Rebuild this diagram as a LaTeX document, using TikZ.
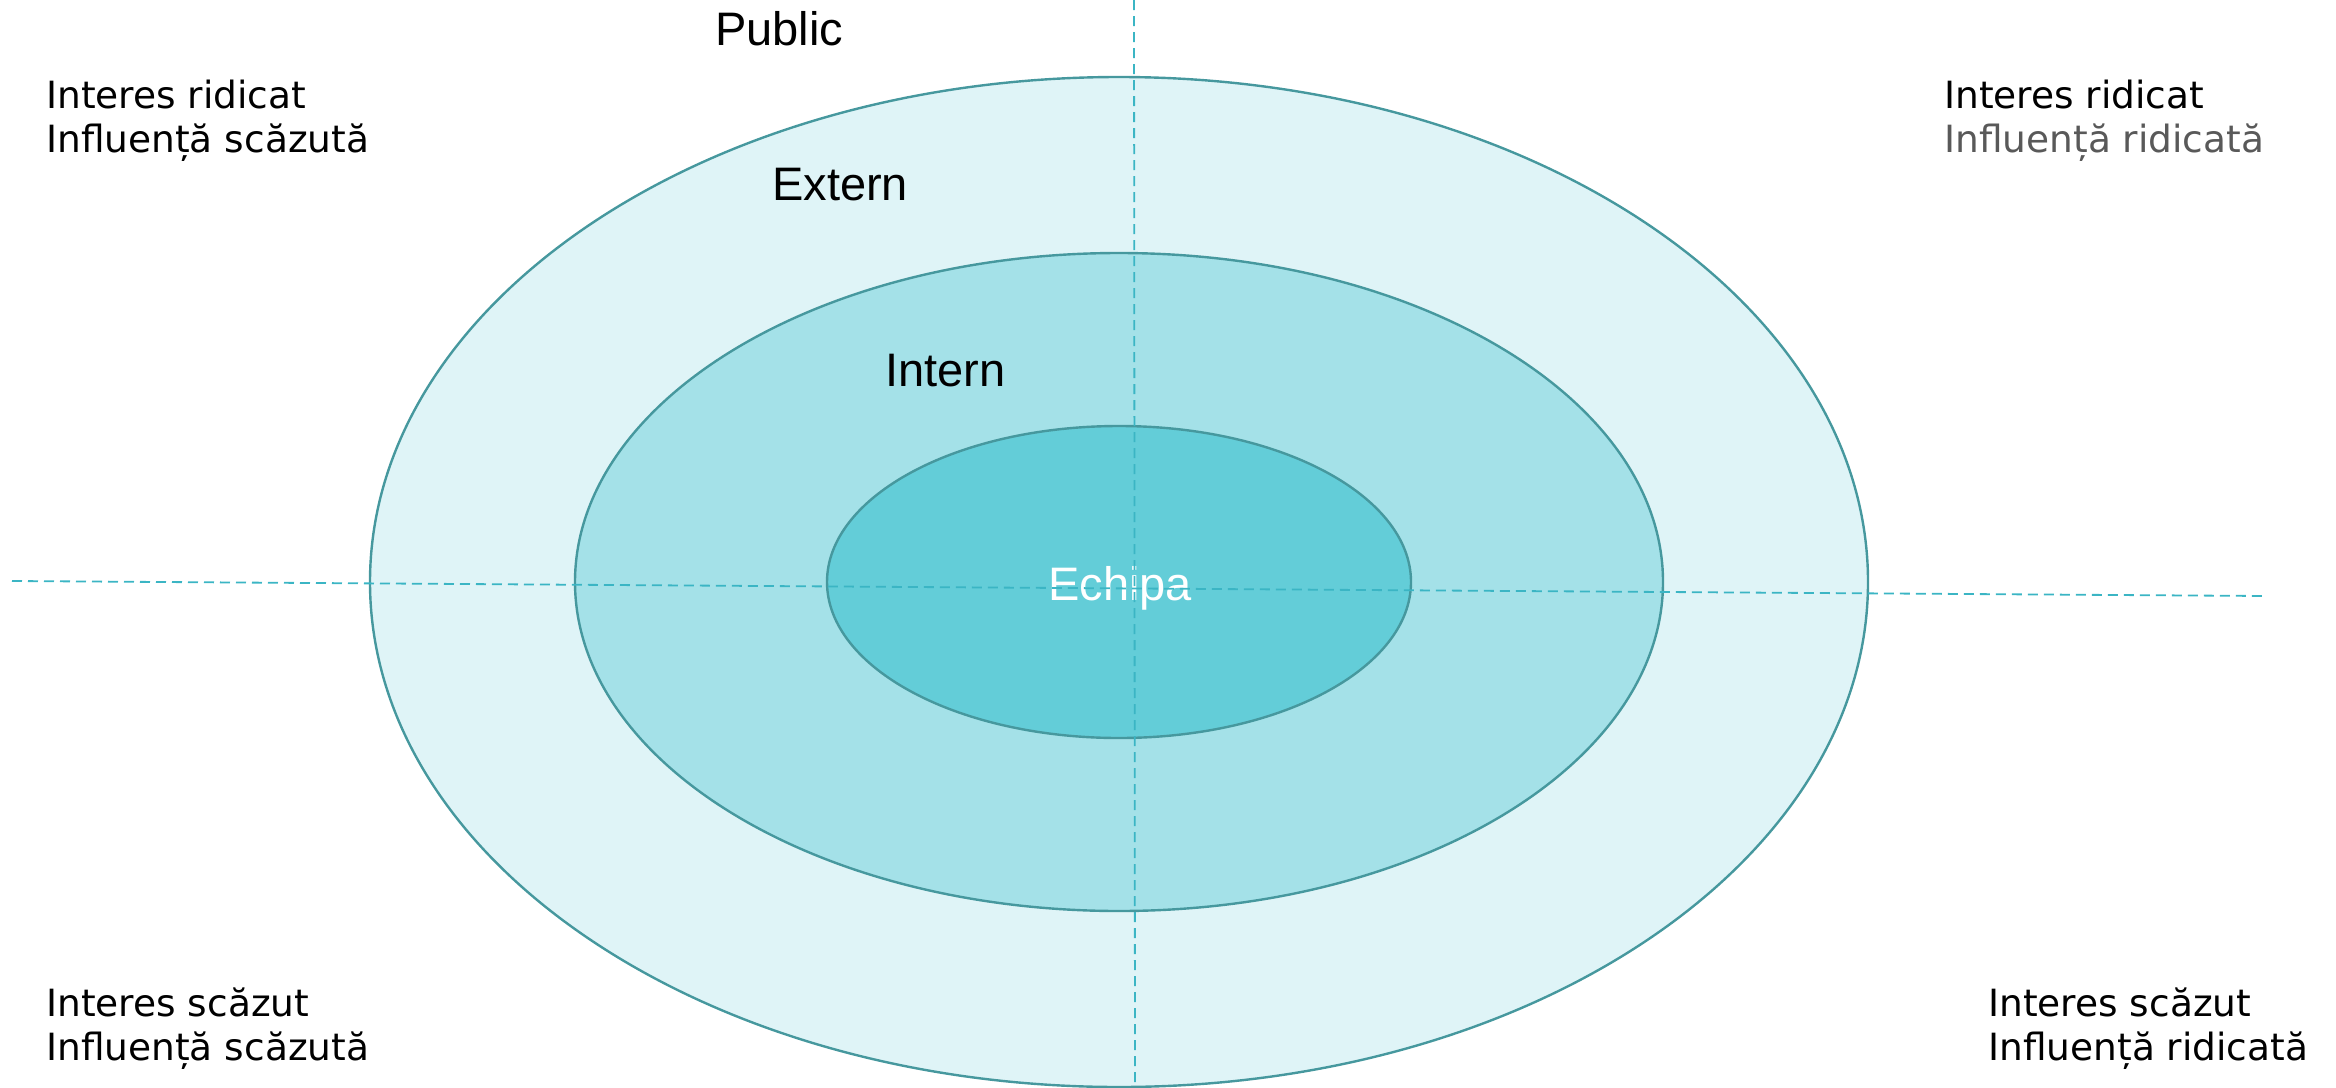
\documentclass[tikz,border=0pt]{standalone}
\usepackage{fontspec}
\setmainfont{Liberation Sans}
\newfontfamily\cornerfont{DejaVu Sans}
\usetikzlibrary{shapes.geometric}
\definecolor{fillA}{RGB}{223,244,247}
\definecolor{fillB}{RGB}{164,225,232}
\definecolor{fillC}{RGB}{99,205,216}
\definecolor{rim}{RGB}{70,152,158}
\definecolor{axis}{RGB}{59,181,196}
\definecolor{greytxt}{RGB}{89,89,89}
\tikzset{
  ring/.style={ellipse, draw=rim, line width=2.4pt, inner sep=0pt},
  axisline/.style={draw=axis, line width=1.8pt, dash pattern=on 10pt off 6pt},
  lbl/.style={anchor=base west, inner sep=0pt, font=\fontsize{47}{56}\selectfont},
  corner/.style={anchor=base west, inner sep=0pt, font=\cornerfont\fontsize{37.5}{40}\selectfont},
}
\begin{document}
\begin{tikzpicture}[x=1pt,y=-1pt]
\useasboundingbox (0,0) rectangle (2336,1087);
\node[ring, fill=fillA, minimum width=1498pt, minimum height=1010pt] (outer) at (1119,582) {};
\node[ring, fill=fillB, minimum width=1088pt, minimum height=658pt] (middle) at (1119,582) {};
\node[ring, fill=fillC, minimum width=584pt, minimum height=312pt] (inner) at (1119,582) {};
\node[lbl] (public) at (715,45) {Public};
\node[lbl] (extern) at (772,200) {Extern};
\node[lbl] (intern) at (885,386) {Intern};
\node[lbl, text=white] (echipa) at (1048,600) {Echipa};
\coordinate (hL) at (12,581);
\coordinate (hR) at (2266,596);
\coordinate (vT) at (1134,0);
\coordinate (vB) at (1135,1087);
\draw[axisline] (hL) -- (hR);
\draw[axisline] (vT) -- (vB);
\node[corner] (tla) at (46,108) {Interes ridicat};
\node[corner] (tlb) at (46,152) {Influență scăzută};
\node[corner] (tra) at (1944,108) {Interes ridicat};
\node[corner, text=greytxt] (trb) at (1944,152) {Influență ridicată};
\node[corner] (bla) at (46,1016) {Interes scăzut};
\node[corner] (blb) at (46,1060) {Influență scăzută};
\node[corner] (bra) at (1988,1016) {Interes scăzut};
\node[corner] (brb) at (1988,1060) {Influență ridicată};
\end{tikzpicture}
\end{document}
